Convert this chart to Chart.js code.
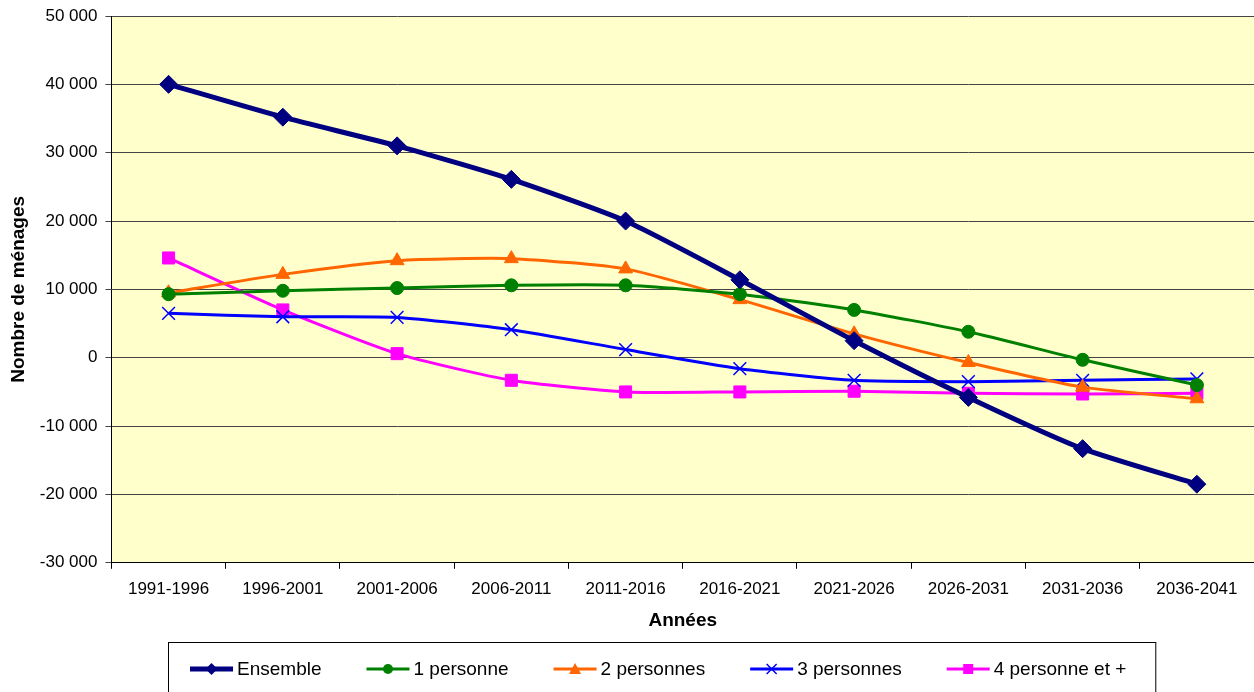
<!DOCTYPE html>
<html>
<head>
<meta charset="utf-8">
<script src="https://cdn.jsdelivr.net/npm/chart.js@4/dist/chart.umd.min.js"></script>
<style>
  html, body { margin: 0; padding: 0; background: #fff; overflow: hidden; }
  canvas { display: block; }
</style>
</head>
<body>
<canvas id="menages" width="1254" height="692"></canvas>
<script>
//Data
const periodes = ['1991-1996', '1996-2001', '2001-2006', '2006-2011', '2011-2016',
                  '2016-2021', '2021-2026', '2026-2031', '2031-2036', '2036-2041'];
const ensemble   = [40000, 35200, 31000, 26100, 20000, 11400, 2500, -5800, -13300, -18500];
const unePers    = [9300, 9800, 10200, 10600, 10600, 9300, 7000, 3800, -300, -4000];
const deuxPers   = [9500, 12200, 14200, 14500, 13000, 8500, 3500, -700, -4300, -6000];
const troisPers  = [6500, 6000, 5900, 4100, 1200, -1600, -3300, -3500, -3300, -3100];
const quatrePers = [14600, 7000, 600, -3300, -5000, -5000, -4900, -5200, -5300, -5200];

const FONT = "'Liberation Sans', Arial, sans-serif";

function serie(label, data, colour, width, style, radius) {
    return {
        label: label,
        data: data,
        borderColor: colour,
        backgroundColor: colour,
        borderWidth: width,
        pointStyle: style,
        pointRadius: radius,
        pointBorderWidth: style === 'crossRot' ? 1.5 : 1,
        pointBorderColor: colour,
        pointBackgroundColor: colour,
        tension: 0.2
    };
}

const datasets = [
    serie('Ensemble', ensemble, '#000080', 5, 'rectRot', 9),
    serie('1 personne', unePers, '#008000', 3, 'circle', 6.5),
    serie('2 personnes', deuxPers, '#FF6600', 3, 'triangle', 8),
    serie('3 personnes', troisPers, '#0000FF', 3, 'crossRot', 9),
    serie('4 personne et +', quatrePers, '#FF00FF', 3, 'rect', 8.5)
];

// small marker used in the legend
function marker(g, style, x, y, r) {
    g.beginPath();
    switch (style) {
        case 'rectRot':
            g.moveTo(x, y - r - 1); g.lineTo(x + r + 1, y); g.lineTo(x, y + r + 1); g.lineTo(x - r - 1, y);
            g.closePath(); g.fill(); break;
        case 'circle':
            g.arc(x, y, r, 0, Math.PI * 2); g.fill(); break;
        case 'triangle':
            g.moveTo(x, y - r - 1); g.lineTo(x + r + 1, y + r); g.lineTo(x - r - 1, y + r);
            g.closePath(); g.fill(); break;
        case 'crossRot':
            g.lineWidth = 1.5;
            g.moveTo(x - r, y - r); g.lineTo(x + r, y + r);
            g.moveTo(x + r, y - r); g.lineTo(x - r, y + r); g.stroke(); break;
        default:
            g.rect(x - r, y - r, 2 * r, 2 * r); g.fill();
    }
}

// yellow plot area, and the framed legend under the axis title
const decor = {
    id: 'decor',
    beforeDraw(chart) {
        const a = chart.chartArea, ctx = chart.ctx;
        ctx.save();
        ctx.fillStyle = '#FFFFCC';
        ctx.fillRect(a.left, a.top, a.right - a.left, a.bottom - a.top);
        ctx.restore();
    },
    afterDraw(chart) {
        const ctx = chart.ctx;
        const sets = chart.data.datasets;
        const lineLen = 43, gapText = 4, gapItem = 45;
        const x0 = 190, yMid = 669;
        ctx.save();
        ctx.font = '19px ' + FONT;
        ctx.textBaseline = 'middle';
        let x = x0;
        sets.forEach(ds => {
            ctx.strokeStyle = ds.borderColor;
            ctx.fillStyle = ds.borderColor;
            ctx.lineWidth = ds.borderWidth;
            ctx.beginPath(); ctx.moveTo(x, yMid); ctx.lineTo(x + lineLen, yMid); ctx.stroke();
            marker(ctx, ds.pointStyle, x + lineLen / 2, yMid, 5);
            ctx.fillStyle = '#000';
            ctx.fillText(ds.label, x + lineLen + gapText, yMid + 1);
            x += lineLen + gapText + ctx.measureText(ds.label).width + gapItem;
        });
        const right = x - gapItem + 29;
        ctx.strokeStyle = '#000';
        ctx.lineWidth = 1;
        ctx.strokeRect(x0 - 22 + 0.5, 642.5, right - x0 + 22, 80);
        ctx.restore();
    }
};

function espaceMilliers(v) {
    return String(v).replace(/\B(?=(\d{3})+(?!\d))/g, ' ');
}

new Chart(document.getElementById('menages'), {
    type: 'line',
    data: { labels: periodes, datasets: datasets },
    plugins: [decor],
    options: {
        responsive: false,
        animation: false,
        layout: { autoPadding: false, padding: { top: 16, right: -5, left: 7, bottom: 60 } },
        plugins: {
            tooltip: { enabled: false },
            legend: { display: false }
        },
        scales: {
            x: {
                offset: true,
                afterFit(scale) { scale.paddingLeft = 0; scale.paddingRight = 0; },
                grid: { offset: true, drawOnChartArea: false, color: '#000', tickLength: 6 },
                border: { color: '#000', width: 1 },
                ticks: { color: '#000', font: { family: FONT, size: 17 }, maxRotation: 0, padding: 10 },
                title: { display: true, text: 'Années', color: '#000', font: { family: FONT, size: 19, weight: 'bold' }, padding: { top: 0, bottom: 0 } }
            },
            y: {
                min: -30000,
                max: 50000,
                afterFit(scale) { scale.paddingTop = 0; },
                grid: { color: '#444', tickLength: 6 },
                border: { color: '#000', width: 1 },
                ticks: {
                    stepSize: 10000,
                    color: '#000',
                    font: { family: FONT, size: 17 },
                    padding: 8,
                    callback: v => espaceMilliers(v)
                },
                title: { display: true, text: 'Nombre de ménages', color: '#000', font: { family: FONT, size: 19, weight: 'bold' }, padding: { top: 0, bottom: 2 } }
            }
        }
    }
});
</script>
</body>
</html>
